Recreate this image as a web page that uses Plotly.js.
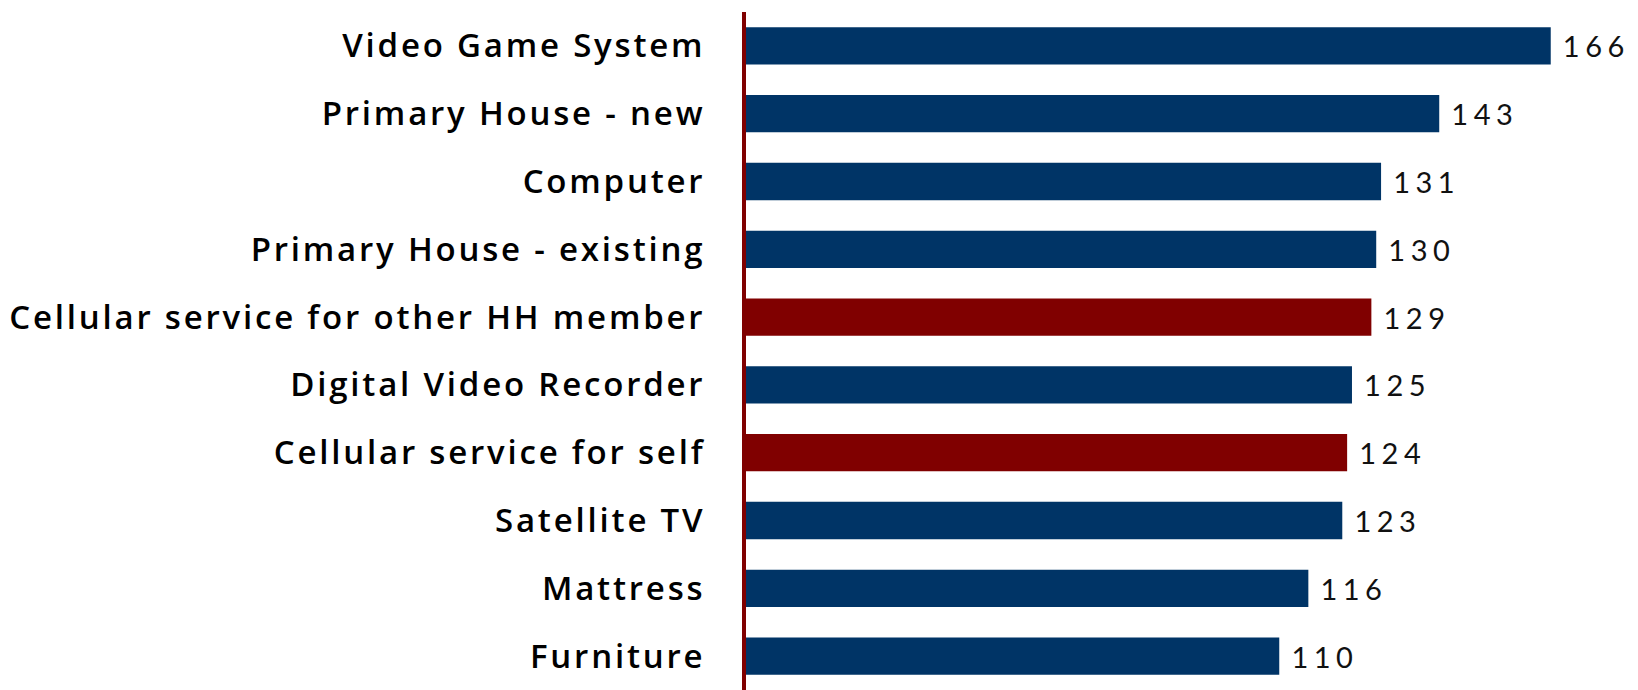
<!DOCTYPE html>
<html><head><meta charset="utf-8">
<script src="https://cdn.plot.ly/plotly-3.0.1.min.js"></script>
<style>
html,body{margin:0;padding:0;background:#fff}#chart{width:1638px;height:690px}
text.bartext{letter-spacing:5.5px}
.ytick text{letter-spacing:2.8px}
</style>
</head><body><div id="chart"></div>
<script>
const categories = ["Video Game System","Primary House - new","Computer","Primary House - existing","Cellular service for other HH member","Digital Video Recorder","Cellular service for self","Satellite TV","Mattress","Furniture"];
const values = [166,143,131,130,129,125,124,123,116,110];
const highlighted = [false,false,false,false,true,false,true,false,false,false];
const BLUE = "#003466", RED = "#800000";
const colors = highlighted.map(h => h ? RED : BLUE);

const trace = {
  type: "bar", orientation: "h",
  y: categories, x: values,
  marker: {color: colors},
  text: values.map(v => "\u2009" + v),
  textposition: "outside",
  constraintext: "none",
  cliponaxis: false,
  textfont: {family: "Lato", size: 29, color: "#111", weight: 400},
  hoverinfo: "none"
};
const layout = {
  width: 1638, height: 690,
  margin: {l: 746, r: 0, t: 12, b: 0},
  paper_bgcolor: "#fff", plot_bgcolor: "#fff",
  bargap: 0.45,
  showlegend: false,
  xaxis: {range: [0, 184], visible: false, fixedrange: true},
  yaxis: {
    autorange: "reversed", type: "category",
    showline: true, linecolor: "#7f0000", linewidth: 4,
    showgrid: false, zeroline: false,
    ticks: "", ticklabelstandoff: 30,
    tickfont: {family: "Open Sans", size: 33, color: "#000", weight: 600}
  }
};
Plotly.newPlot("chart", [trace], layout, {staticPlot: true});
</script></body></html>
